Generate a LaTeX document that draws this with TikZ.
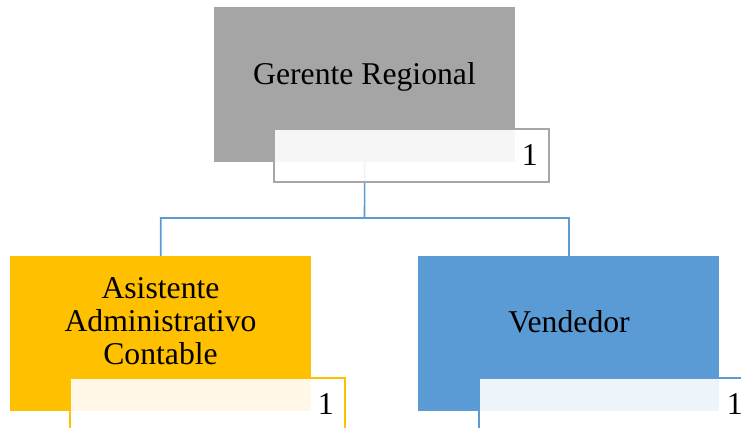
\documentclass[tikz,border=0pt]{standalone}
\usepackage{fontspec}
\setmainfont{Liberation Serif}
\definecolor{gbox}{HTML}{A5A5A5}
\definecolor{gline}{HTML}{A6A6A6}
\definecolor{obox}{HTML}{FFC000}
\definecolor{bbox}{HTML}{5B9BD5}
\tikzset{
  mainbox/.style={rectangle, draw=none, fill=#1, minimum width=301pt, minimum height=155pt, inner sep=0pt, anchor=north west},
  numbox/.style={rectangle, draw=#1, line width=1.6pt, fill=white, fill opacity=0.9, text opacity=1,
     minimum width=275pt, minimum height=53pt, text width=253pt, inner xsep=11pt, inner ysep=0pt, align=right, anchor=north west,
     font=\fontsize{31.7}{33}\selectfont},
  boxtext/.style={font=\fontsize{31.7}{33}\selectfont, inner sep=0pt, align=center},
  conn/.style={draw=bbox, line width=1.6pt}
}
\begin{document}
\begin{tikzpicture}[x=1pt,y=-1pt]
\useasboundingbox (0,0) rectangle (741,428);
\clip (0,0) rectangle (741,428);
% main boxes
\node[mainbox=gbox] (top) at (214,7) {};
\node[mainbox=obox] (left) at (10,256) {};
\node[mainbox=bbox] (right) at (418,256) {};
% texts
\node[boxtext, anchor=base] (toptext) at (364.5,84) {Gerente Regional};
\node[boxtext, anchor=base] (lefttext) at (160.5,364) {Asistente\\Administrativo\\Contable};
\node[boxtext, anchor=base] (righttext) at (569,332) {Vendedor};
% connectors
\coordinate (mid) at (364.5,218);
\draw[conn] (top.south) -- (mid) -| (left.north);
\draw[conn] (mid) -| (right.north);
% number boxes
\node[numbox=gline] (topnum) at (273,128) {1};
\node[numbox=obox] (leftnum) at (69,377) {1};
\node[numbox=bbox] (rightnum) at (478,377) {1};
\end{tikzpicture}
\end{document}
